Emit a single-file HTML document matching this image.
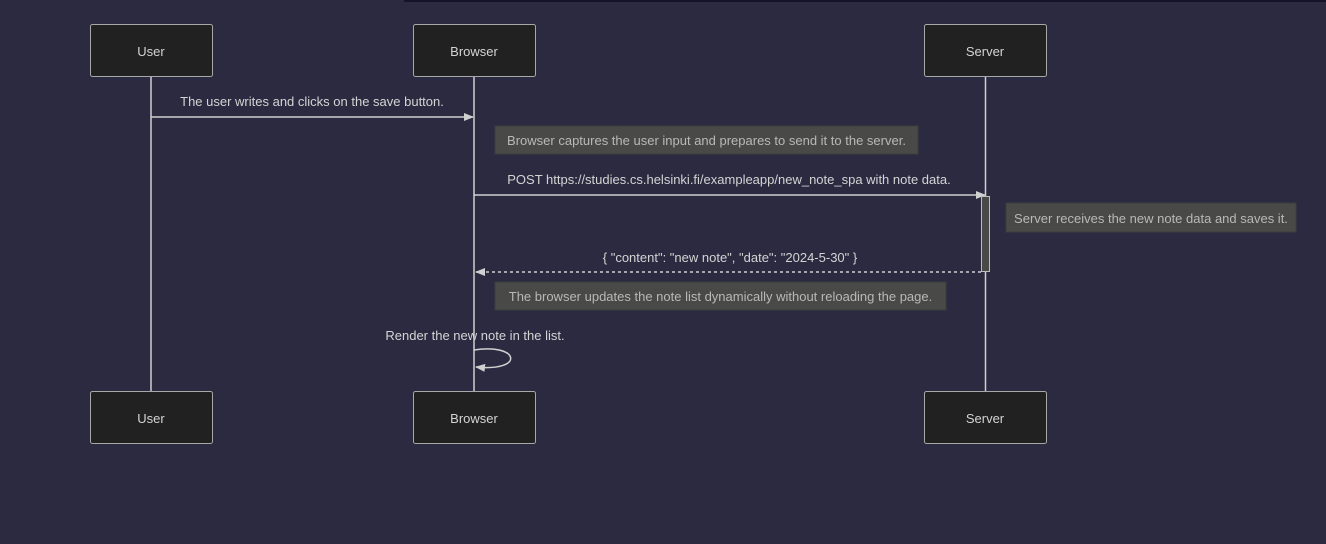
<!DOCTYPE html>
<html><head><meta charset="utf-8"><style>
html,body{margin:0;padding:0;background:#2b2a41;}
svg{display:block;font-family:"Liberation Sans",Arial,sans-serif;}
</style></head><body>
<svg width="1326" height="544" viewBox="0 0 1326 544" xmlns="http://www.w3.org/2000/svg">
<rect width="1326" height="544" fill="#2b2a41"/>
<rect x="404" y="0" width="922" height="2" fill="#13132a"/>
<defs>
<marker id="a" markerWidth="10" markerHeight="8" refX="9" refY="4" orient="auto" markerUnits="userSpaceOnUse"><path d="M0,0 L10,4 L0,8 z" fill="#d0d0d0"/></marker>
</defs>
<g stroke="#cfcfcf" stroke-width="1.5">
<line x1="151" y1="77" x2="151" y2="391"/>
<line x1="474" y1="77" x2="474" y2="391"/>
<line x1="985.5" y1="77" x2="985.5" y2="391"/>
</g>
<g fill="#202120" stroke="#a8a8a8" stroke-width="1">
<rect x="90.5" y="24.5" width="122" height="52" rx="2"/>
<rect x="413.5" y="24.5" width="122" height="52" rx="2"/>
<rect x="924.5" y="24.5" width="122" height="52" rx="2"/>
<rect x="90.5" y="391.5" width="122" height="52" rx="2"/>
<rect x="413.5" y="391.5" width="122" height="52" rx="2"/>
<rect x="924.5" y="391.5" width="122" height="52" rx="2"/>
</g>
<g fill="#d4d4d4" font-size="13" text-anchor="middle">
<text x="151" y="56">User</text><text x="474" y="56">Browser</text><text x="985" y="56">Server</text>
<text x="151" y="423">User</text><text x="474" y="423">Browser</text><text x="985" y="423">Server</text>
</g>
<line x1="151" y1="117" x2="473" y2="117" stroke="#d0d0d0" stroke-width="1.5" marker-end="url(#a)"/>
<text x="312" y="106" fill="#d4d4d4" font-size="13" text-anchor="middle">The user writes and clicks on the save button.</text>
<rect x="495" y="126" width="423" height="28" fill="#494a47" stroke="#3c3d3b"/>
<text x="706.5" y="145" fill="#b8b8b8" font-size="13" text-anchor="middle">Browser captures the user input and prepares to send it to the server.</text>
<line x1="474" y1="195" x2="985" y2="195" stroke="#d0d0d0" stroke-width="1.5" marker-end="url(#a)"/>
<text x="729" y="184" fill="#d4d4d4" font-size="13" text-anchor="middle">POST https://studies.cs.helsinki.fi/exampleapp/new_note_spa with note data.</text>
<rect x="981.5" y="196.5" width="8" height="75" fill="#484a47" stroke="#bdbdbd"/>
<rect x="1006" y="203" width="290" height="29" fill="#494a47" stroke="#3c3d3b"/>
<text x="1151" y="223" fill="#b8b8b8" font-size="13" text-anchor="middle">Server receives the new note data and saves it.</text>
<line x1="981" y1="272" x2="476" y2="272" stroke="#d0d0d0" stroke-width="1.5" stroke-dasharray="3,3" marker-end="url(#a)"/>
<text x="730" y="262" fill="#d4d4d4" font-size="13" text-anchor="middle">{ "content": "new note", "date": "2024-5-30" }</text>
<rect x="495" y="282" width="451" height="28" fill="#494a47" stroke="#3c3d3b"/>
<text x="720.5" y="301" fill="#b8b8b8" font-size="13" text-anchor="middle">The browser updates the note list dynamically without reloading the page.</text>
<text x="475" y="340" fill="#d4d4d4" font-size="13" text-anchor="middle">Render the new note in the list.</text>
<path d="M474,350 C520,343 525,372 476,367" fill="none" stroke="#d0d0d0" stroke-width="1.5" marker-end="url(#a)"/>
</svg>
</body></html>
